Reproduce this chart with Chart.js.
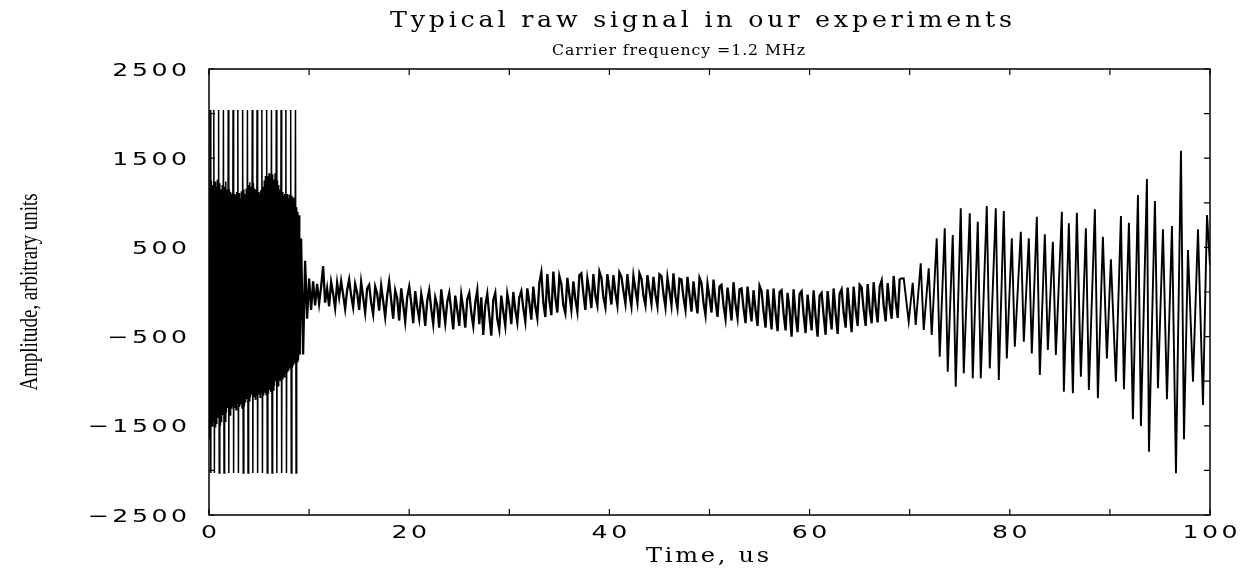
<!DOCTYPE html>
<html>
<head>
  <title>Typical raw signal in our experiments</title>
  <meta charset="UTF-8">
  <script src="https://cdn.jsdelivr.net/npm/chart.js"></script>
  <style>
    body {
      margin: 0;
      background-color: #fff;
    }
    .chart-container {
      position: relative;
      width: 1252px;
      height: 569px;
    }
  </style>
</head>
<body>
  <div class="chart-container">
    <canvas id="signalChart"></canvas>
  </div>

  <script>
    // Burst (transmitted pulse), sampled every 0.06 us from t = 0
    const burstStart = 0;
    const burstStep = 0.06;
    const burstAmp = [
      450, -1650, 2040, -2030, 1250, -1500, 1200, -1450,
      2040, -2030, 1240, -1520, 1180, -1480, 1260, -1400,
      2040, -2030, 1220, -1500, 1150, -1460, 1200, -1380,
      2040, -2030, 1180, -1450, 1240, -1350, 1150, -1300,
      2040, -2030, 1150, -1380, 1120, -1300, 1100, -1280,
      2040, -2030, 1100, -1300, 1080, -1320, 1120, -1250,
      2040, -2030, 1110, -1290, 1050, -1260, 1130, -1300,
      2040, -2030, 1150, -1280, 1100, -1240, 1160, -1200,
      2040, -2030, 1200, -1220, 1230, -1180, 1180, -1150,
      2040, -2030, 1220, -1170, 1160, -1200, 1150, -1160,
      2040, -2030, 1120, -1150, 1100, -1180, 1140, -1120,
      2040, -2030, 1180, -1160, 1250, -1130, 1300, -1150,
      2040, -2030, 1300, -1140, 1330, -1100, 1280, -1120,
      2040, -2030, 1320, -1100, 1260, -1050, 1330, -1000,
      2040, -2030, 1250, -1050, 1200, -980, 1150, -1000,
      2040, -2030, 1120, -980, 1080, -950, 1100, -900,
      2040, -2030, 1100, -900, 1050, -880, 1090, -850,
      2040, -2030, 1080, -850, 1060, -820, 1000, -800,
      2040, -2030, 950, -780, 900, -760, 860, -700
    ];

    // Ring-down and background noise, sampled every 0.2 us from t = 9.2
    const noiseStart = 9.2;
    const noiseStep = 0.2;
    const noiseAmp = [
      600, -700, 350, -300, 150, -200, 120, -150, 90, -130,
      60, 290, -120, 40, -160, 110, -20, -180, 100, -60,
      120, -30, -190, 20, 140, -40, -170, 90, -10, -200,
      110, -60, -230, 40, 80, -120, -250, 60, -20, -210,
      70, -100, -280, -40, 120, -90, -300, 20, -70, -320,
      40, -140, -330, -60, 60, -120, -350, 10, -170, -300,
      -20, -160, -380, -100, 20, -190, -360, -60, -150, -400,
      30, -170, -350, -110, -10, -210, -420, -40, -200, -380,
      -30, -190, -400, -80, -10, -230, -380, -120, 20, -360,
      -60, -480, -150, -20, -260, -490, -90, -10, -300, -420,
      -40, -220, -380, -20, -150, -360, 0, -200, -340, -60,
      10, -180, -330, 40, -120, -310, 60, -160, -290, 100,
      220, -120, -280, 200, -90, -260, 230, -60, -230, 180,
      90, -150, -240, 160, -30, -200, 120, -80, -220, 190,
      210, -20, -200, 150, 10, -180, 200, -40, -150, 230,
      160, -60, -170, 200, 30, -140, 190, -10, -150, 220,
      170, 10, -130, 200, -20, -160, 180, 30, -120, 210,
      150, -40, -150, 190, 20, -130, 170, -30, -160, 200,
      180, -20, -170, 160, 10, -150, 210, -50, -180, 150,
      140, -60, -200, 170, -30, -220, 120, -80, -240, 160,
      100, -120, -260, 90, -60, -230, 140, -100, -280, 60,
      80, -150, -300, 50, -120, -320, 110, -140, -290, 30,
      40, -180, -350, 60, -150, -330, 20, -200, -380, 70,
      10, -220, -400, 30, -190, -420, 40, -230, -440, 0,
      20, -240, -430, -10, -200, -500, 30, -260, -450, -20,
      10, -250, -460, -30, -230, -430, 20, -270, -500, -40,
      -10, -260, -480, 10, -220, -420, 40, -240, -470, -20,
      30, -230, -400, 50, -210, -450, 60, -200, -380, 80,
      50, -200, -380, 90, -190, -350, 110, -160, -340, 60,
      130, -150, -330, 100, -140, -300, 180, -100, -290, 150
    ];

    // Echo: peaks and troughs
    const echoTime = [
      69.0, 69.4, 69.9, 70.3, 70.6, 71.1, 71.4, 71.9, 72.2, 72.7, 73.0,
      73.5, 73.8, 74.3, 74.6, 75.1, 75.4, 76.0, 76.3, 76.8, 77.1,
      77.7, 78.0, 78.6, 78.9, 79.4, 79.7, 80.2, 80.5, 81.1, 81.4,
      81.9, 82.2, 82.7, 83.0, 83.5, 83.8, 84.3, 84.6, 85.2, 85.4,
      85.9, 86.3, 86.7, 87.1, 87.6, 87.9, 88.5, 88.8, 89.3, 89.7,
      90.1, 90.6, 91.1, 91.4, 91.9, 92.3, 92.8, 93.1, 93.7, 93.9,
      94.5, 94.8, 95.3, 95.7, 96.2, 96.6, 97.1, 97.4, 97.8, 98.3,
      98.8, 99.3, 99.7, 100.0
    ];
    const echoAmp = [
      150, 154, -333, 104, -370, 322, -426, 266, -482, 602, -725,
      714, -893, 639, -1061, 938, -912, 882, -968, 788, -968,
      964, -856, 938, -986, 908, -744, 602, -613, 676, -557,
      602, -688, 844, -930, 647, -650, 564, -706, 900, -1117,
      770, -1136, 889, -949, 714, -1099, 927, -1192, 620, -744,
      366, -1005, 852, -1091, 777, -1427, 1087, -1502, 1267, -1790,
      1020, -1080, 703, -1203, 740, -2033, 1584, -1651, 471, -1005,
      703, -1267, 863, 300
    ];

    const xLabelValues = [0, 20, 40, 60, 80, 100];
    const yLabelValues = [2500, 1500, 500, -500, -1500, -2500];

    const burstPoints = burstAmp.map((v, i) => ({ x: +(burstStart + i * burstStep).toFixed(2), y: v }));
    const noisePoints = [burstPoints[burstPoints.length - 1]]
      .concat(noiseAmp.map((v, i) => ({ x: +(noiseStart + i * noiseStep).toFixed(2), y: v })));
    const echoPoints = echoAmp.map((v, i) => ({ x: echoTime[i], y: v }));

    // draw text stretched horizontally by sx, with extra spacing between letters
    function wideText(ctx, text, x, baseline, align, font, sx, spacing) {
      ctx.save();
      ctx.font = font;
      ctx.letterSpacing = '0px';
      const w = (ctx.measureText(text).width + spacing * (text.length - 1)) * sx;
      const left = align === 'center' ? x - w / 2 : align === 'right' ? x - w : x;
      ctx.letterSpacing = spacing + 'px';
      ctx.textAlign = 'left';
      ctx.textBaseline = 'alphabetic';
      ctx.translate(left, baseline);
      ctx.scale(sx, 1);
      ctx.fillText(text, 0, 0);
      ctx.restore();
    }

    // same, but spacing chosen so the text fills a given width
    function fitText(ctx, text, left, baseline, width, font, sx) {
      ctx.font = font;
      ctx.letterSpacing = '0px';
      const w = ctx.measureText(text).width;
      const spacing = (width / sx - w) / (text.length - 1);
      wideText(ctx, text, left, baseline, 'left', font, sx, spacing);
    }

    const framePlugin = {
      id: 'frame',
      afterDraw(chart) {
        const { ctx, chartArea: a, scales: { x, y } } = chart;
        ctx.save();
        ctx.strokeStyle = '#000';
        ctx.fillStyle = '#000';
        ctx.lineWidth = 1.5;
        ctx.strokeRect(a.left, a.top, a.right - a.left, a.bottom - a.top);

        // inward tick marks on all four sides
        ctx.lineWidth = 1.2;
        ctx.beginPath();
        x.ticks.forEach(t => {
          const px = x.getPixelForValue(t.value);
          ctx.moveTo(px, a.bottom); ctx.lineTo(px, a.bottom - 6);
          ctx.moveTo(px, a.top); ctx.lineTo(px, a.top + 6);
        });
        y.ticks.forEach(t => {
          const py = y.getPixelForValue(t.value);
          ctx.moveTo(a.left, py); ctx.lineTo(a.left + 6, py);
          ctx.moveTo(a.right, py); ctx.lineTo(a.right - 6, py);
        });
        ctx.stroke();

        // tick labels, wide sans like the original
        const tickFont = '18px "DejaVu Sans"';
        xLabelValues.forEach(v => {
          wideText(ctx, String(v), x.getPixelForValue(v), 538, 'center', tickFont, 1.4, 2.5);
        });
        yLabelValues.forEach(v => {
          const label = v < 0 ? '\u2212' + Math.abs(v) : String(v);
          wideText(ctx, label, a.left - 22, y.getPixelForValue(v) + 6.5, 'right', tickFont, 1.4, 2.5);
        });

        fitText(ctx, 'Typical raw signal in our experiments', 390, 27, 622, '22px "DejaVu Serif"', 1.15);
        fitText(ctx, 'Carrier frequency =1.2 MHz', 552, 55, 253, '15px "DejaVu Serif"', 1.05);
        fitText(ctx, 'Time, us', 646, 562, 123, '20px "DejaVu Serif"', 1.2);

        // condensed vertical axis title
        const yTitle = 'Amplitude, arbitrary units';
        ctx.letterSpacing = '0px';
        ctx.font = '26px "Liberation Serif"';
        const w = ctx.measureText(yTitle).width;
        ctx.translate(30, (a.top + a.bottom) / 2);
        ctx.rotate(-Math.PI / 2);
        ctx.scale(197 / w, 1);
        ctx.textAlign = 'center';
        ctx.textBaseline = 'middle';
        ctx.fillText(yTitle, 0, 0);
        ctx.restore();
      }
    };

    const lineStyle = { borderColor: '#000', pointRadius: 0, tension: 0, fill: false };

    const ctx = document.getElementById('signalChart').getContext('2d');
    new Chart(ctx, {
      type: 'line',
      data: {
        datasets: [
          Object.assign({ label: 'Burst', data: burstPoints, borderWidth: 1.5 }, lineStyle),
          Object.assign({ label: 'Noise', data: noisePoints, borderWidth: 2.3 }, lineStyle),
          Object.assign({ label: 'Echo', data: echoPoints, borderWidth: 1.9 }, lineStyle)
        ]
      },
      options: {
        responsive: true,
        maintainAspectRatio: false,
        animation: false,
        layout: {
          padding: { top: 69, right: 42, bottom: 0, left: 0 }
        },
        plugins: {
          legend: { display: false },
          tooltip: { enabled: false }
        },
        scales: {
          x: {
            type: 'linear',
            min: 0,
            max: 100,
            grid: { display: false },
            border: { display: false },
            afterFit: (scale) => { scale.height = 54; },
            ticks: { display: false, stepSize: 10, autoSkip: false }
          },
          y: {
            min: -2500,
            max: 2500,
            grid: { display: false },
            border: { display: false },
            afterFit: (scale) => { scale.width = 209; },
            ticks: { display: false, stepSize: 500, autoSkip: false }
          }
        }
      },
      plugins: [framePlugin]
    });
  </script>
</body>
</html>
